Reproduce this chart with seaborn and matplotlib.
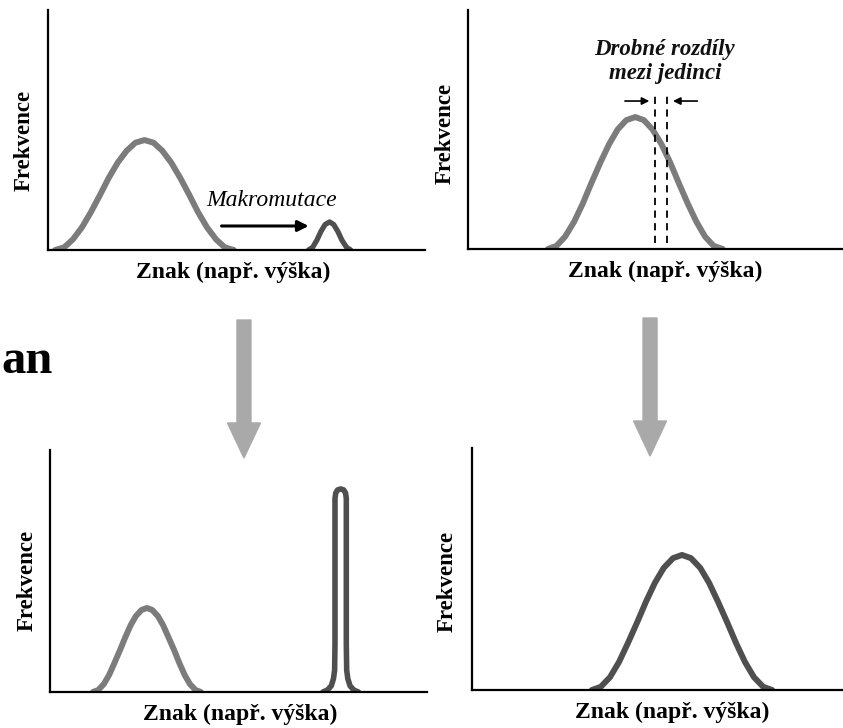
import matplotlib.pyplot as plt
import seaborn as sns
from matplotlib.patches import FancyArrow

# curve values (x = trait, y = frequency, both 0-100 per panel)
puvodni_x = [1.9, 4.3, 6.6, 9.0, 11.4, 13.8, 16.1, 18.5, 20.9, 23.2, 25.6,
             28.0, 30.3, 32.7, 35.1, 37.5, 39.8, 42.2, 44.6, 46.9, 49.3]
puvodni_y = [0, 1.1, 4.4, 9.4, 15.8, 22.9, 30.0, 36.4, 41.4, 44.7, 45.8,
             44.7, 41.4, 36.4, 30.0, 22.9, 15.8, 9.4, 4.4, 1.1, 0]

makro_x = [69.1, 70.2, 71.3, 72.4, 73.5, 74.7, 75.8, 76.9, 78.0, 79.2, 80.3]
makro_y = [0, 1.1, 4.0, 7.7, 10.6, 11.7, 10.6, 7.7, 4.0, 1.1, 0]

drobne_x = [21.3, 23.6, 25.9, 28.3, 30.6, 32.9, 35.3, 37.6, 39.9, 42.2, 44.6,
            46.9, 49.2, 51.6, 53.9, 56.2, 58.6, 60.9, 63.2, 65.5, 67.9]
drobne_y = [0, 1.3, 5.2, 11.4, 19.0, 27.6, 36.2, 43.8, 50.0, 53.9, 55.2,
            53.9, 50.0, 43.8, 36.2, 27.6, 19.0, 11.4, 5.2, 1.3, 0]
dashed_x = [49.9, 53.1]

zbytek_x = [11.4, 12.8, 14.3, 15.7, 17.1, 18.6, 20.0, 21.4, 22.8, 24.3, 25.7,
            27.1, 28.6, 30.0, 31.4, 32.9, 34.3, 35.7, 37.1, 38.6, 40.0]
zbytek_y = [0, 0.8, 3.3, 7.1, 12.0, 17.4, 22.7, 27.6, 31.4, 33.9, 34.7,
            33.9, 31.4, 27.6, 22.7, 17.4, 12.0, 7.1, 3.3, 0.8, 0]

spicka_x = [72.4, 73.6, 74.6, 75.2, 75.5, 75.6, 75.6, 75.8, 76.3, 77.1,
            77.9, 78.4, 78.6, 78.6, 78.7, 79.0, 79.6, 80.6, 81.8]
spicka_y = [0, 0.8, 2.5, 5.5, 9.0, 20.0, 80.0, 82.2, 83.5, 83.9,
            83.5, 82.2, 80.0, 20.0, 9.0, 5.5, 2.5, 0.8, 0]

novy_x = [32.3, 34.7, 37.2, 39.6, 42.0, 44.5, 46.9, 49.3, 51.7, 54.2, 56.6,
          59.0, 61.5, 63.9, 66.3, 68.8, 71.2, 73.6, 76.0, 78.5, 80.9]
novy_y = [0, 1.3, 5.3, 11.5, 19.3, 27.9, 36.5, 44.3, 50.5, 54.5, 55.8,
          54.5, 50.5, 44.3, 36.5, 27.9, 19.3, 11.5, 5.3, 1.3, 0]

xlabel = 'Znak (např. výška)'
ylabel = 'Frekvence'

LIGHT = '#7c7c7c'
DARK = '#4f4f4f'

sns.set_theme(style='white')
plt.rcParams['font.family'] = ['Liberation Serif', 'DejaVu Serif']

fig = plt.figure(figsize=(8.43, 7.28), dpi=100)

def make_axes(rect, xlab, ylab):
    ax = fig.add_axes(rect)
    ax.set_xlim(0, 100)
    ax.set_ylim(0, 100)
    ax.set_xticks([])
    ax.set_yticks([])
    for s in ['top', 'right']:
        ax.spines[s].set_visible(False)
    for s in ['left', 'bottom']:
        ax.spines[s].set_color('black')
        ax.spines[s].set_linewidth(1.6)
    ax.set_xlabel(xlabel, fontsize=17, fontweight='bold', color='black')
    ax.set_ylabel(ylabel, fontsize=16.5, fontweight='bold', color='black')
    ax.xaxis.set_label_coords(*xlab)
    ax.yaxis.set_label_coords(*ylab)
    return ax

def curve(ax, x, y, color, lw):
    sns.lineplot(x=x, y=y, ax=ax, color=color, linewidth=lw, sort=False,
                 estimator=None, solid_capstyle='round', solid_joinstyle='round')

ax1 = make_axes([0.0569, 0.6566, 0.4472, 0.3297], (0.49, -0.05), (-0.034, 0.458))
ax2 = make_axes([0.5552, 0.658, 0.4448, 0.3283], (0.525, -0.05), (-0.032, 0.485))
ax3 = make_axes([0.0593, 0.0495, 0.4472, 0.3324], (0.504, -0.05), (-0.032, 0.459))
ax4 = make_axes([0.5599, 0.0522, 0.4401, 0.3324], (0.539, -0.05), (-0.038, 0.45))

# top left: macromutation
curve(ax1, puvodni_x, puvodni_y, LIGHT, 4.3)
curve(ax1, makro_x, makro_y, DARK, 3.8)
ax1.annotate('', xy=(69.9, 10), xytext=(45.3, 10),
             arrowprops=dict(arrowstyle='-|>', color='black', lw=2.2, mutation_scale=16))
ax1.text(59.2, 20.8, 'Makromutace', ha='center', va='center', fontsize=17,
         style='italic', color='black')

# top right: small differences
curve(ax2, drobne_x, drobne_y, LIGHT, 4.3)
for dx in dashed_x:
    ax2.plot([dx, dx], [2.5, 65.7], color='black', lw=1.3, dashes=(4, 3))
ax2.annotate('', xy=(49.1, 61.9), xytext=(41.1, 61.9),
             arrowprops=dict(arrowstyle='-|>', color='black', lw=1.2, mutation_scale=11))
ax2.annotate('', xy=(53.9, 61.9), xytext=(61.9, 61.9),
             arrowprops=dict(arrowstyle='-|>', color='black', lw=1.2, mutation_scale=11))
ax2.text(52.5, 78.5, 'Drobné rozdíly\nmezi jedinci', ha='center', va='center',
         fontsize=16.5, style='italic', fontweight='bold', linespacing=1.15, color='#111111')

# bottom left: result of macromutation
curve(ax3, zbytek_x, zbytek_y, LIGHT, 4.3)
curve(ax3, spicka_x, spicka_y, DARK, 4.0)

# bottom right: gradual shift
curve(ax4, novy_x, novy_y, DARK, 4.3)

# big gray arrows between rows
for cx, top, tip in [(0.2894, 0.5604, 0.3709), (0.7711, 0.5632, 0.3736)]:
    fig.add_artist(FancyArrow(cx, top, 0, tip - top, width=0.0166, head_width=0.0391,
                              head_length=0.0481, length_includes_head=True,
                              color='#a9a9a9', transform=fig.transFigure))

# leftover word fragment from the slide
fig.text(0.002, 0.488, 'an', ha='left', va='baseline', fontsize=35,
         fontweight='bold', color='black')

fig.savefig('out.png', dpi=100)
